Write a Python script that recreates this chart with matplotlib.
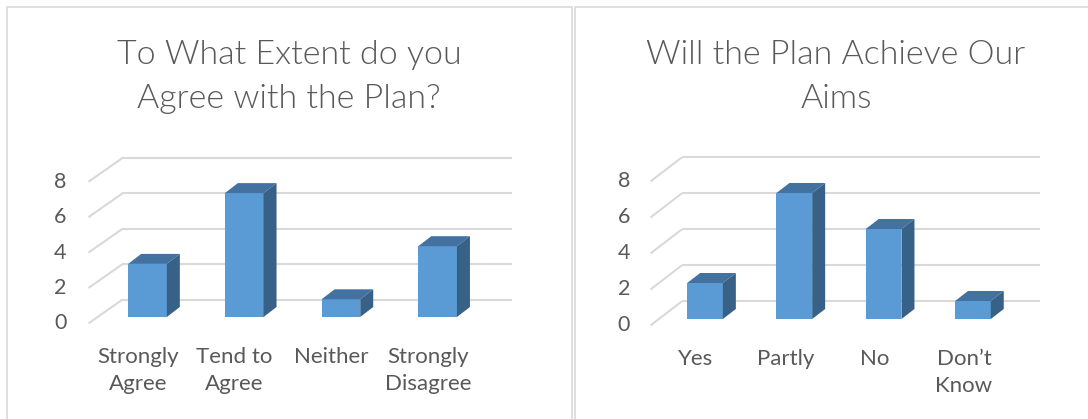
import matplotlib
matplotlib.use("Agg")
import matplotlib.pyplot as plt
from matplotlib.patches import Polygon, Rectangle

plt.rcParams['font.family'] = ['Lato', 'DejaVu Sans']

# donnees
titre_gauche = "To What Extent do you\nAgree with the Plan?"
categories_gauche = ["Strongly\nAgree", "Tend to\nAgree", "Neither", "Strongly\nDisagree"]
valeurs_gauche = [3, 7, 1, 4]

titre_droite = "Will the Plan Achieve Our\nAims"
categories_droite = ["Yes", "Partly", "No", "Don\u2019t\nKnow"]
valeurs_droite = [2, 7, 5, 1]

graduations = [0, 2, 4, 6, 8]

W, H = 1088, 419
GRIS = "#595959"
GRILLE = "#D9D9D9"
FACE = "#5B9BD5"
DESSUS = "#4472A0"
COTE = "#386188"


def graphique_3d(fig, titre, categories, valeurs, cx0, pas, base, unite, x_titre, x_fin):
    # axe en coordonnees de donnees : x = categorie, y = valeur
    xmin, xmax, ymin, ymax = -1.6, 4.4, -4.8, 12
    left = (cx0 + xmin * pas) / W
    width = (xmax - xmin) * pas / W
    bottom = (H - (base - ymin * unite)) / H
    height = (ymax - ymin) * unite / H
    ax = fig.add_axes([left, bottom, width, height])
    ax.set_xlim(xmin, xmax)
    ax.set_ylim(ymin, ymax)
    ax.axis('off')

    # plans du fond / de face
    avant, arriere = -0.36, 0.98
    x_avant, x_arriere = -0.61, -0.26
    for v in graduations:
        ax.plot([x_avant, x_arriere], [v + avant, v + arriere], color=GRILLE, lw=1.5, zorder=1, solid_capstyle='butt')
        ax.plot([x_arriere, x_fin], [v + arriere, v + arriere], color=GRILLE, lw=1.5, zorder=1, solid_capstyle='butt')
        ax.text(-0.84, v + avant, str(v), ha='right', va='center', fontsize=15.5, color=GRIS)

    # barres 3D
    larg = 0.40
    ddx = 13 / pas
    ddy = 10 / unite
    xs = list(range(len(valeurs)))
    ax.bar(xs, valeurs, width=larg, color=FACE, zorder=3)
    for x, v in zip(xs, valeurs):
        g, d = x - larg / 2, x + larg / 2
        ax.add_patch(Polygon([(g, v), (d, v), (d + ddx, v + ddy), (g + ddx, v + ddy)],
                             closed=True, facecolor=DESSUS, edgecolor='none', zorder=3))
        ax.add_patch(Polygon([(d, 0), (d + ddx, ddy), (d + ddx, v + ddy), (d, v)],
                             closed=True, facecolor=COTE, edgecolor='none', zorder=3))
        ax.text(x - 0.1, -1.68, categories[x], ha='center', va='top', fontsize=16,
                color=GRIS, linespacing=1.45)

    fig.text(x_titre / W, 1 - 77 / H, titre, ha='center', va='center', fontsize=24.5,
             color=GRIS, linespacing=1.58, fontweight=300)
    return ax


fig = plt.figure(figsize=(W / 100, H / 100), dpi=100)

# cadres des deux graphiques
fig.add_artist(Rectangle((7 / W, -0.1), (572 - 7) / W, 1.1 - 7 / H, transform=fig.transFigure,
                         fill=False, edgecolor=GRILLE, lw=1.2))
fig.add_artist(Rectangle((575 / W, -0.1), 0.6, 1.1 - 7 / H, transform=fig.transFigure,
                         fill=False, edgecolor=GRILLE, lw=1.2))

graphique_3d(fig, titre_gauche, categories_gauche, valeurs_gauche,
             cx0=147.5, pas=96.7, base=317, unite=17.7, x_titre=289, x_fin=3.77)
graphique_3d(fig, titre_droite, categories_droite, valeurs_droite,
             cx0=705, pas=89.3, base=319, unite=18, x_titre=836, x_fin=3.75)

fig.savefig("out.png", dpi=100, facecolor='white')
